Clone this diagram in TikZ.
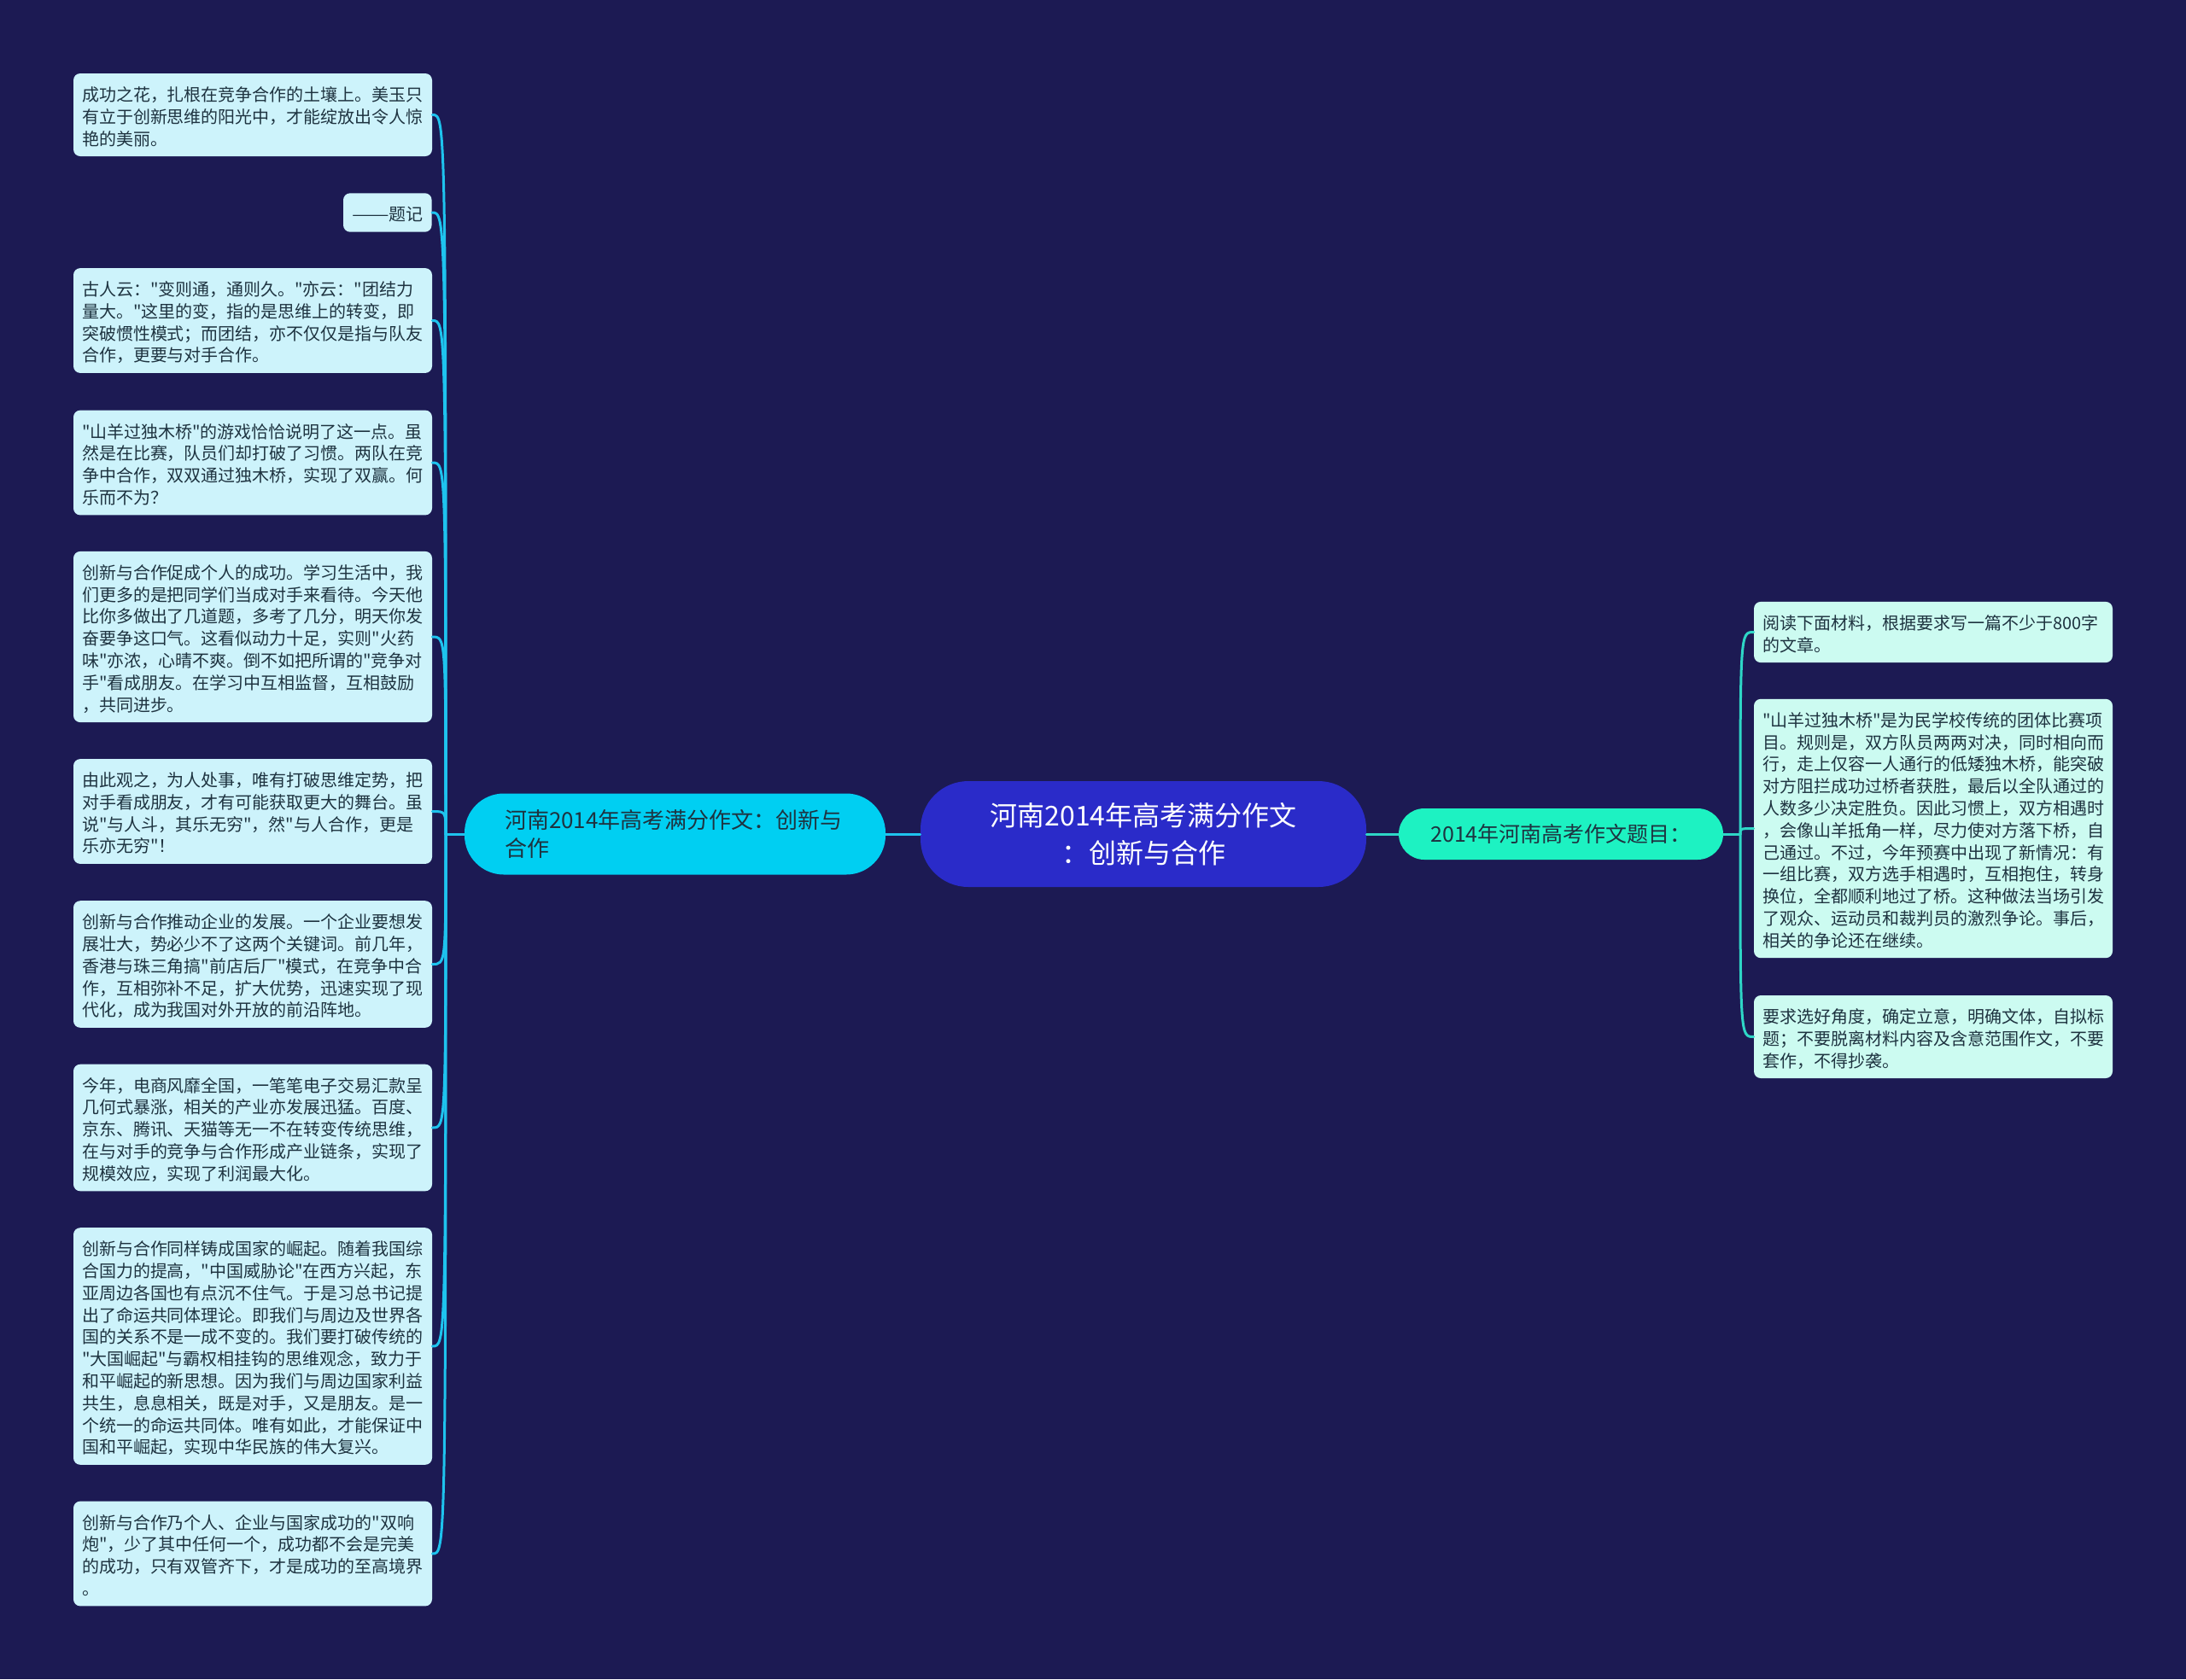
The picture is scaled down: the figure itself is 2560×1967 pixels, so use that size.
\documentclass[tikz,border=0pt]{standalone}
\usepackage{fontspec}
\newfontfamily\cjk{Noto Sans CJK SC}
\definecolor{bg}{HTML}{1C1A53}
\definecolor{rootfill}{HTML}{2A2BC9}
\definecolor{lbfill}{HTML}{00CFF2}
\definecolor{rbfill}{HTML}{1DF2C2}
\definecolor{lleaf}{HTML}{CDF3FB}
\definecolor{rleaf}{HTML}{CCFBF1}
\definecolor{llink}{HTML}{1EC3EE}
\definecolor{rlink}{HTML}{2ED6C6}
\definecolor{ink}{HTML}{1E3340}
\newcommand\topstrut{\rule{0pt}{11.3pt}}
\newcommand\botstrut{\rule[-1.6pt]{0pt}{1.6pt}}
\begin{document}
\begin{tikzpicture}[x=0.5pt, y=-0.5pt, font=\cjk, line cap=round, line join=round,
  leaf/.style={fill=#1, text=ink, rounded corners=4pt, align=left, text width=200pt,
    inner xsep=5pt, inner ysep=4.9pt, font=\cjk\fontsize{10}{12.9}\selectfont,
    execute at begin node=\topstrut, execute at end node=\botstrut},
  leaf/.default=lleaf,
  root/.style={fill=rootfill, text=white, rounded corners=28pt, align=center,
    minimum width=261pt, minimum height=62pt, font=\cjk\fontsize{16}{22}\selectfont},
  llinks/.style={draw=llink, line width=1.5pt},
  rlinks/.style={draw=rlink, line width=1.5pt}]
\fill[bg] (0,0) rectangle (2560,1967);

\node[root] (root) at (1339,977) {河南2014年高考满分作文\\：创新与合作};
\node[fill=lbfill, text=ink, rounded corners=23pt, align=left, text width=199.5pt, inner xsep=23.5pt,
  minimum height=47.5pt, font=\cjk\fontsize{13}{16.5}\selectfont] (lb) at (790.5,977)
  {河南2014年高考满分作文：创新与\\合作};
\node[fill=rbfill, text=ink, rounded corners=15pt, align=center, minimum width=190pt,
  minimum height=30pt, font=\cjk\fontsize{12.5}{15}\selectfont] (rb) at (1828,977)
  {2014年河南高考作文题目：};

\node[leaf] (l1) at (296,134.5) {成功之花，扎根在竞争合作的土壤上。美玉只\\有立于创新思维的阳光中，才能绽放出令人惊\\艳的美丽。};
\node[fill=lleaf, text=ink, rounded corners=4pt, inner xsep=5pt, inner ysep=4.9pt,
  font=\cjk\fontsize{10}{12.9}\selectfont, anchor=east] (l2) at (506,249)
  {\topstrut\scalebox{1.3}[1]{——}题记\botstrut};
\node[leaf] (l3) at (296,375.5) {古人云："变则通，通则久。"亦云："团结力\\量大。"这里的变，指的是思维上的转变，即\\突破惯性模式；而团结，亦不仅仅是指与队友\\合作，更要与对手合作。};
\node[leaf] (l4) at (296,542) {"山羊过独木桥"的游戏恰恰说明了这一点。虽\\然是在比赛，队员们却打破了习惯。两队在竞\\争中合作，双双通过独木桥，实现了双赢。何\\乐而不为？};
\node[leaf] (l5) at (296,746) {创新与合作促成个人的成功。学习生活中，我\\们更多的是把同学们当成对手来看待。今天他\\比你多做出了几道题，多考了几分，明天你发\\奋要争这口气。这看似动力十足，实则"火药\\味"亦浓，心晴不爽。倒不如把所谓的"竞争对\\手"看成朋友。在学习中互相监督，互相鼓励\\，共同进步。};
\node[leaf] (l6) at (296,950.5) {由此观之，为人处事，唯有打破思维定势，把\\对手看成朋友，才有可能获取更大的舞台。虽\\说"与人斗，其乐无穷"，然"与人合作，更是\\乐亦无穷"！};
\node[leaf] (l7) at (296,1129.5) {创新与合作推动企业的发展。一个企业要想发\\展壮大，势必少不了这两个关键词。前几年，\\香港与珠三角搞"前店后厂"模式，在竞争中合\\作，互相弥补不足，扩大优势，迅速实现了现\\代化，成为我国对外开放的前沿阵地。};
\node[leaf] (l8) at (296,1321) {今年，电商风靡全国，一笔笔电子交易汇款呈\\几何式暴涨，相关的产业亦发展迅猛。百度、\\京东、腾讯、天猫等无一不在转变传统思维，\\在与对手的竞争与合作形成产业链条，实现了\\规模效应，实现了利润最大化。};
\node[leaf] (l9) at (296,1577) {创新与合作同样铸成国家的崛起。随着我国综\\合国力的提高，"中国威胁论"在西方兴起，东\\亚周边各国也有点沉不住气。于是习总书记提\\出了命运共同体理论。即我们与周边及世界各\\国的关系不是一成不变的。我们要打破传统的\\"大国崛起"与霸权相挂钩的思维观念，致力于\\和平崛起的新思想。因为我们与周边国家利益\\共生，息息相关，既是对手，又是朋友。是一\\个统一的命运共同体。唯有如此，才能保证中\\国和平崛起，实现中华民族的伟大复兴。};
\node[leaf] (l10) at (296,1820) {创新与合作乃个人、企业与国家成功的"双响\\炮"，少了其中任何一个，成功都不会是完美\\的成功，只有双管齐下，才是成功的至高境界\\。};

\node[leaf=rleaf] (r1) at (2264,740.5) {阅读下面材料，根据要求写一篇不少于800字\\的文章。};
\node[leaf=rleaf] (r2) at (2264,970.5) {"山羊过独木桥"是为民学校传统的团体比赛项\\目。规则是，双方队员两两对决，同时相向而\\行，走上仅容一人通行的低矮独木桥，能突破\\对方阻拦成功过桥者获胜，最后以全队通过的\\人数多少决定胜负。因此习惯上，双方相遇时\\，会像山羊抵角一样，尽力使对方落下桥，自\\己通过。不过，今年预赛中出现了新情况：有\\一组比赛，双方选手相遇时，互相抱住，转身\\换位，全都顺利地过了桥。这种做法当场引发\\了观众、运动员和裁判员的激烈争论。事后，\\相关的争论还在继续。};
\node[leaf=rleaf] (r3) at (2264,1214.5) {要求选好角度，确定立意，明确文体，自拟标\\题；不要脱离材料内容及含意范围作文，不要\\套作，不得抄袭。};

\coordinate (tl) at (522,977);
\coordinate (tr) at (2038,977);
\draw[llinks] (lb.east) -- (root.west);
\draw[rlinks] (root.east) -- (rb.west);
\draw[llinks] (lb.west) -- (tl);
\draw[rlinks] (rb.east) -- (tr);
\foreach \n in {l1,l2,l3,l4,l5,l6,l7,l8,l9,l10}
  \draw[llinks] (tl) .. controls (tl |- \n.east) and (tl |- \n.east) .. (\n.east);
\foreach \n in {r1,r2,r3}
  \draw[rlinks] (tr) .. controls (tr |- \n.west) and (tr |- \n.west) .. (\n.west);
\end{tikzpicture}
\end{document}
